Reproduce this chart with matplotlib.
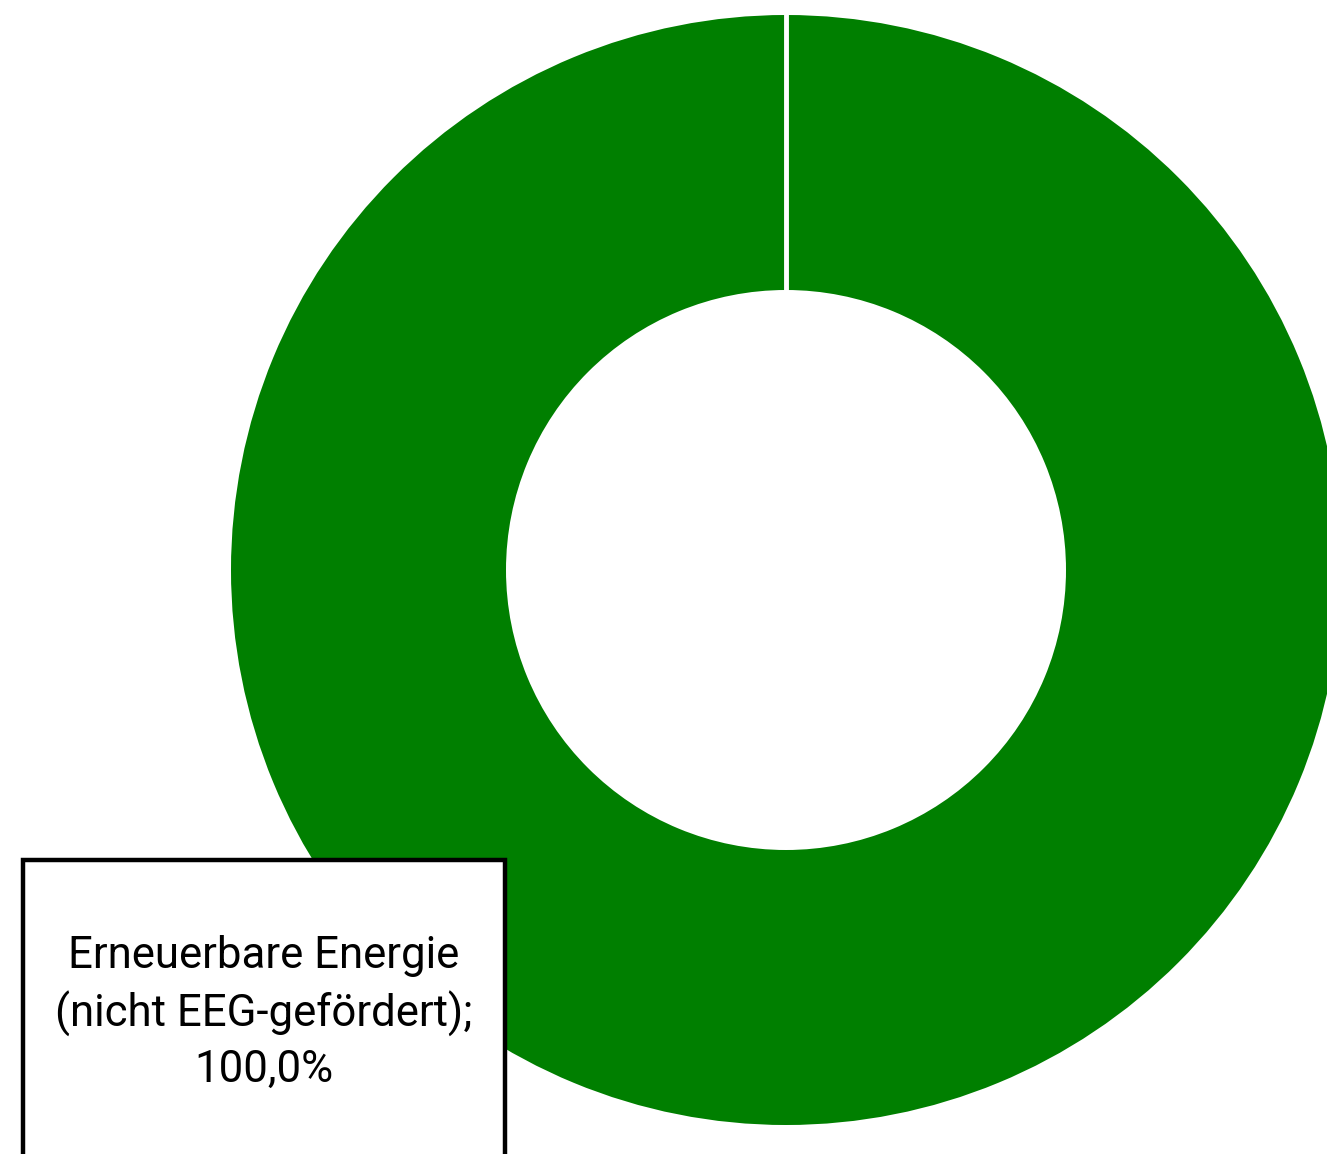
import matplotlib
matplotlib.use("Agg")
import numpy as np
import matplotlib.pyplot as plt
from matplotlib.patches import Rectangle

labels = ["Erneuerbare Energie\n(nicht EEG-gefördert)"]
values = [100.0]
colors = ["#007F00"]

W, H = 1327, 1154
cx, cy = 786, H - 570
r_out, ring_w = 555, 275
start = 90

fig = plt.figure(figsize=(W/100, H/100), dpi=100)
ax = fig.add_axes([0, 0, 1, 1])

ax.pie(values, colors=colors, startangle=start, counterclock=False,
       center=(cx, cy), radius=r_out,
       wedgeprops=dict(width=ring_w, edgecolor="white", linewidth=0))
# white separator at the slice boundary
th = np.deg2rad(start)
rr = np.array([r_out - ring_w - 2, r_out + 2])
ax.plot(cx + rr * np.cos(th), cy + rr * np.sin(th), color="white", lw=3.5,
        solid_capstyle="butt", zorder=3)

ax.set_xlim(0, W)
ax.set_ylim(0, H)
ax.set_aspect("equal")
ax.axis("off")

ax.add_patch(Rectangle((23, -20), 482, H - 860 + 20, facecolor="white",
                       edgecolor="black", linewidth=3.2, zorder=5))
txt = f"{labels[0]};\n{values[0]:.1f}%".replace(".", ",")
ax.text(264, H - 1013, txt, ha="center", va="center", fontsize=31.5,
        family=["Roboto", "DejaVu Sans"], fontweight="normal", linespacing=1.38,
        zorder=6, color="black")

fig.savefig("out.png", dpi=100)
